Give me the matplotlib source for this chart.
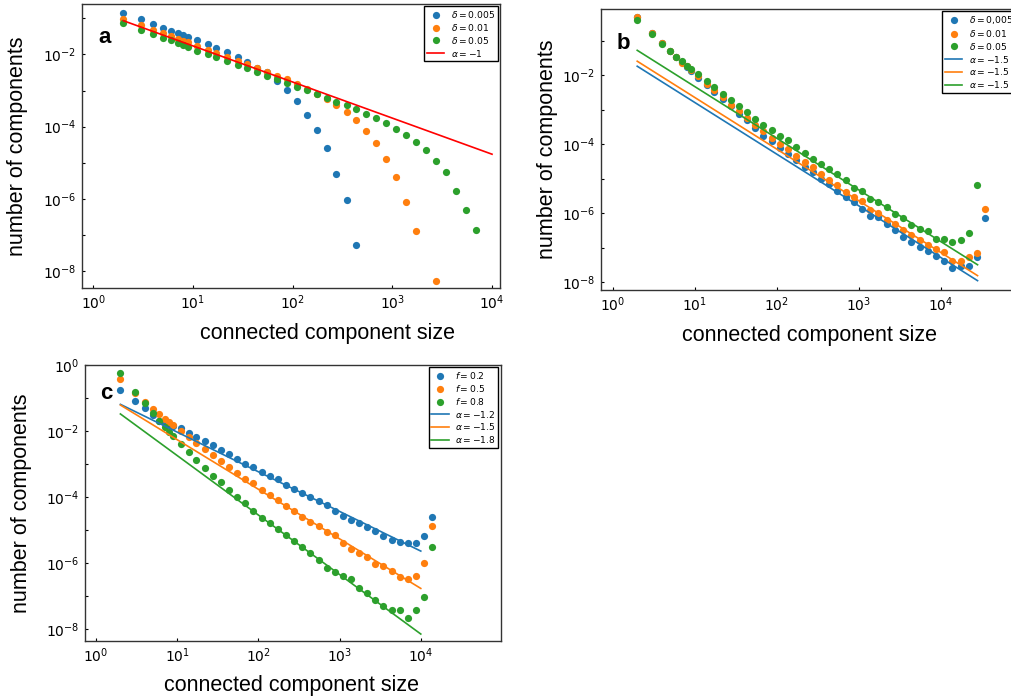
import numpy as np
import matplotlib.pyplot as plt

# component sizes (log-binned above 10)
SIZES = [2, 3, 4, 5, 6, 7, 8, 9, 11, 14, 17, 22, 28, 35, 44, 55, 69, 87, 110, 138,
         174, 219, 275, 347, 437, 550, 692, 871, 1096, 1380, 1738, 2188, 2754,
         3467, 4365, 5495, 6918, 8710, 10965, 13804, 17378, 21878, 27542, 34674]

# values are log10(number of components), nan = no point
# panel a
A_D005 = [-0.86, -1.03, -1.16, -1.26, -1.34, -1.40, -1.46, -1.51, -1.60, -1.71, -1.83,
          -1.94, -2.08, -2.22, -2.37, -2.50, -2.75, -2.99, -3.30, -3.68, -4.09, -4.60,
          -5.30, -6.02, -7.27]
A_D01 = [-1.02, -1.19, -1.32, -1.42, -1.49, -1.56, -1.62, -1.67, -1.77, -1.88, -1.97,
         -2.06, -2.17, -2.26, -2.37, -2.48, -2.59, -2.69, -2.81, -2.97, -3.10, -3.23,
         -3.39, -3.60, -3.83, -4.11, -4.46, -4.91, -5.40, -6.09, -6.88, np.nan, -8.28]
A_D05 = [-1.14, -1.32, -1.43, -1.54, -1.61, -1.68, -1.73, -1.79, -1.90, -1.99, -2.08,
         -2.19, -2.28, -2.39, -2.49, -2.60, -2.69, -2.80, -2.89, -2.99, -3.09, -3.21,
         -3.32, -3.41, -3.52, -3.65, -3.77, -3.90, -4.06, -4.24, -4.42, -4.65, -4.94,
         -5.26, -5.77, -6.31, -6.86]
A_FIT = (0.172, -1.0)  # prefactor, exponent

# panel b
B_D005 = [-0.31, -0.78, -1.08, -1.31, -1.48, -1.62, -1.75, -1.87, -2.08, -2.28, -2.49,
          -2.68, -2.90, -3.13, -3.31, -3.53, -3.76, -3.92, -4.10, -4.28, -4.46, -4.65,
          -4.81, -5.01, -5.16, -5.35, -5.52, -5.67, -5.89, -6.09, -6.12, -6.33, -6.48,
          -6.70, -6.85, -6.97, -7.11, -7.24, -7.40, -7.60, -7.52, -7.54, -7.28, -6.15]
B_D01 = [-0.31, -0.78, -1.08, -1.31, -1.48, -1.64, -1.73, -1.85, -2.03, -2.25, -2.43,
         -2.64, -2.86, -3.05, -3.23, -3.44, -3.62, -3.82, -4.00, -4.13, -4.33, -4.52,
         -4.67, -4.86, -5.03, -5.18, -5.38, -5.52, -5.66, -5.91, -6.00, -6.19, -6.32,
         -6.49, -6.64, -6.77, -6.93, -7.04, -7.14, -7.38, -7.39, -7.28, -7.16, -5.88]
B_D05 = [-0.39, -0.81, -1.09, -1.31, -1.47, -1.60, -1.72, -1.83, -1.97, -2.17, -2.35,
         -2.55, -2.71, -2.89, -3.07, -3.26, -3.43, -3.58, -3.76, -3.88, -4.07, -4.25,
         -4.42, -4.57, -4.72, -4.88, -5.04, -5.26, -5.36, -5.60, -5.67, -5.83, -6.04,
         -6.14, -6.34, -6.46, -6.53, -6.74, -6.75, -6.84, -6.77, -6.59, -5.19]
B_FITS = [(0.0515, -1.5), (0.072, -1.5), (0.149, -1.5)]

# panel c
C_F02 = [-0.76, -1.08, -1.31, -1.51, -1.70, -1.75, -1.80, -1.84, -1.92, -2.05, -2.18,
         -2.30, -2.42, -2.57, -2.70, -2.85, -2.99, -3.09, -3.24, -3.35, -3.45, -3.63,
         -3.76, -3.86, -4.00, -4.12, -4.25, -4.43, -4.56, -4.69, -4.78, -4.91, -5.02,
         -5.17, -5.28, -5.37, -5.39, -5.38, -5.18, -4.59]
C_F05 = [-0.42, -0.86, -1.13, -1.33, -1.49, -1.62, -1.73, -1.81, -1.99, -2.18, -2.37,
         -2.55, -2.73, -2.90, -3.09, -3.26, -3.45, -3.58, -3.78, -3.93, -4.09, -4.26,
         -4.41, -4.59, -4.74, -4.87, -5.05, -5.14, -5.40, -5.57, -5.68, -5.82, -6.02,
         -6.08, -6.23, -6.40, -6.46, -6.39, -5.98, -4.87]
C_F08 = [-0.23, -0.82, -1.16, -1.46, -1.69, -1.87, -2.02, -2.16, -2.39, -2.64, -2.88,
         -3.11, -3.35, -3.55, -3.78, -3.99, -4.17, -4.41, -4.62, -4.77, -4.97, -5.15,
         -5.33, -5.50, -5.70, -5.91, -6.14, -6.27, -6.39, -6.48, -6.74, -6.89, -7.11,
         -7.29, -7.42, -7.42, -7.65, -7.42, -7.01, -5.52]
C_FITS = [(0.148, -1.2), (0.174, -1.5), (0.115, -1.8)]

COLORS = ["#1f77b4", "#ff7f0e", "#2ca02c"]
LABEL_FONT = "Liberation Sans"

W, H = 1011, 700
fig = plt.figure(figsize=(W / 100, H / 100), dpi=100)


def px_box(left, top, right, bottom):
    return [left / W, 1 - bottom / H, (right - left) / W, (bottom - top) / H]


def fig_text(x, y, s, **kw):
    fig.text(x / W, 1 - y / H, s, **kw)


def points(ax, ys, color, label):
    ax.plot(SIZES[:len(ys)], 10.0 ** np.array(ys), "o", color=color, ms=5.2,
            mew=0, label=label)


def fit(ax, pref, alpha, x_end, color, label):
    x = np.array([2.0, x_end])
    ax.plot(x, pref * x ** alpha, color=color, lw=1.2, label=label)


def style(ax, xlim, ylim, ytop):
    ax.set_xscale("log")
    ax.set_yscale("log")
    ax.set_xlim(10 ** xlim[0], 10 ** xlim[1])
    ax.set_ylim(10 ** ylim[0], 10 ** ylim[1])
    ax.set_xticks([10.0 ** e for e in range(0, 5)])
    ax.set_xticklabels([f"$10^{{{e}}}$" for e in range(0, 5)])
    exps = list(range(-8, ytop + 1))
    ax.set_yticks([10.0 ** e for e in exps])
    ax.set_yticklabels([f"$10^{{{e}}}$" if e % 2 == 0 else "" for e in exps])
    ax.minorticks_off()
    ax.tick_params(direction="in", length=2.5, width=0.8, labelsize=10, pad=4)
    for sp in ax.spines.values():
        sp.set_linewidth(1.0)
        sp.set_color("#333333")
    ax.legend(loc="upper right", fontsize=6.6, fancybox=False, edgecolor="black",
              borderaxespad=0.25, handlelength=1.9, handletextpad=0.7,
              labelspacing=0.2, borderpad=0.3, framealpha=1)


# a
ax1 = fig.add_axes(px_box(82, 4, 500, 288))
points(ax1, A_D005, COLORS[0], r"$\delta=0.005$")
points(ax1, A_D01, COLORS[1], r"$\delta=0.01$")
points(ax1, A_D05, COLORS[2], r"$\delta=0.05$")
fit(ax1, A_FIT[0], A_FIT[1], 1e4, "red", r"$\alpha=-1$")
style(ax1, (-0.113, 4.08), (-8.47, -0.604), -1)

# b
ax2 = fig.add_axes(px_box(600.7, 9, 1018, 290))
points(ax2, B_D005, COLORS[0], r"$\delta=0{,}005$")
points(ax2, B_D01, COLORS[1], r"$\delta=0.01$")
points(ax2, B_D05, COLORS[2], r"$\delta=0.05$")
for (pref, alpha), c in zip(B_FITS, COLORS):
    fit(ax2, pref, alpha, 28000, c, rf"$\alpha={alpha}$")
style(ax2, (-0.144, 4.94), (-8.23, -0.08), -1)

# c
ax3 = fig.add_axes(px_box(85, 365, 500.7, 641))
points(ax3, C_F02, COLORS[0], r"$f=0.2$")
points(ax3, C_F05, COLORS[1], r"$f=0.5$")
points(ax3, C_F08, COLORS[2], r"$f=0.8$")
for (pref, alpha), c in zip(C_FITS, COLORS):
    fit(ax3, pref, alpha, 1e4, c, rf"$\alpha={alpha}$")
style(ax3, (-0.135, 4.984), (-8.35, 0.0), 0)

# labels
lab = dict(fontsize=15.5, family=LABEL_FONT, ha="center", va="center")
fig_text(18, 146, "number of components", rotation=90, **lab)
fig_text(328, 333, "connected component size", **lab)
fig_text(548, 149, "number of components", rotation=90, **lab)
fig_text(810, 336, "connected component size", **lab)
fig_text(22, 503, "number of components", rotation=90, **lab)
fig_text(292, 686, "connected component size", **lab)

let = dict(fontsize=16, family=LABEL_FONT, weight="bold", ha="left", va="baseline")
fig_text(98, 43, "a", **let)
fig_text(617, 49, "b", **let)
fig_text(100, 399, "c", **let)

fig.savefig("out.png", dpi=100)
